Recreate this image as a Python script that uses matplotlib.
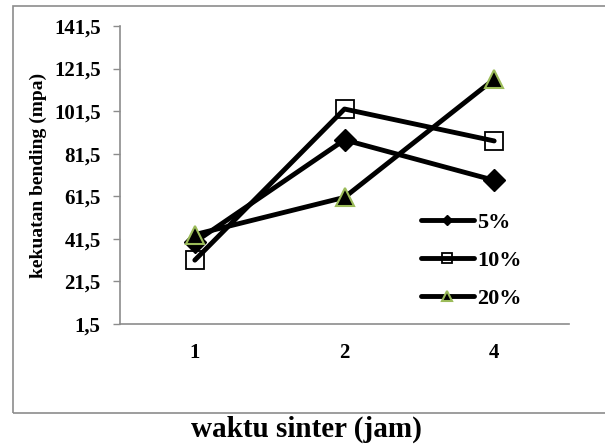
import matplotlib.pyplot as plt
from matplotlib.patches import Rectangle

# data
waktu = ["1", "2", "4"]
seri_5 = [40.0, 88.0, 69.0]
seri_10 = [31.5, 102.5, 87.5]
seri_20 = [43.5, 61.0, 116.5]
y_ticks = [1.5, 21.5, 41.5, 61.5, 81.5, 101.5, 121.5, 141.5]

plt.rcParams['font.family'] = ['Liberation Serif', 'DejaVu Serif']
plt.rcParams['font.weight'] = 'bold'

fig = plt.figure(figsize=(6.05, 4.45), dpi=100)
ax = fig.add_axes([120/605, 1-324/445, 449/605, (324-26)/445])

# outer frame (runs off the right edge)
fig.patches.append(Rectangle((13/605, 1-413/445), 1.2, (413-6)/445,
                             transform=fig.transFigure, fill=False,
                             edgecolor='#8c8c8c', linewidth=1.2, clip_on=False))

x = range(len(waktu))
ax.plot(x, seri_5, color='black', lw=3.5, marker='D', ms=11,
        mfc='black', mec='black', label='5%', solid_capstyle='round', zorder=3)
ax.plot(x, seri_10, color='black', lw=3.5, marker='s', ms=13,
        mfc='none', mec='black', mew=1.3, label='10%', solid_capstyle='round', zorder=3)
ax.plot(x, seri_20, color='black', lw=3.5, marker='^', ms=13,
        mfc='black', mec='#9bbb59', mew=1.5, label='20%', solid_capstyle='round', zorder=4)

ax.set_xlim(-0.5, 2.5)
ax.set_ylim(1.5, 141.5)
ax.set_xticks(list(x))
ax.set_xticklabels(waktu, fontsize=15, fontweight='bold')
ax.set_yticks(y_ticks)
ax.set_yticklabels([f"{v:.1f}".replace('.', ',') for v in y_ticks],
                   fontsize=15, fontweight='bold')
ax.tick_params(axis='x', length=0, pad=14)
ax.tick_params(axis='y', length=5, width=1, color='#8c8c8c', pad=9)

for s in ['top', 'right']:
    ax.spines[s].set_visible(False)
for s in ['left', 'bottom']:
    ax.spines[s].set_color('#8c8c8c')
    ax.spines[s].set_linewidth(1.2)

ax.set_ylabel("kekuatan bending (mpa)", fontsize=14, fontweight='bold', labelpad=5)
fig.text(306/605, 1-437/445, "waktu sinter (jam)", ha='center', va='baseline',
         fontsize=21, fontweight='bold')

leg = ax.legend(loc='center left', bbox_to_anchor=(0.67, 0.213), frameon=False,
                fontsize=16, markerscale=0.5, handlelength=2.4, handletextpad=0.15,
                labelspacing=0.78, borderaxespad=0, borderpad=0)
for t in leg.get_texts():
    t.set_fontweight('bold')

fig.savefig("out.png", dpi=100)
